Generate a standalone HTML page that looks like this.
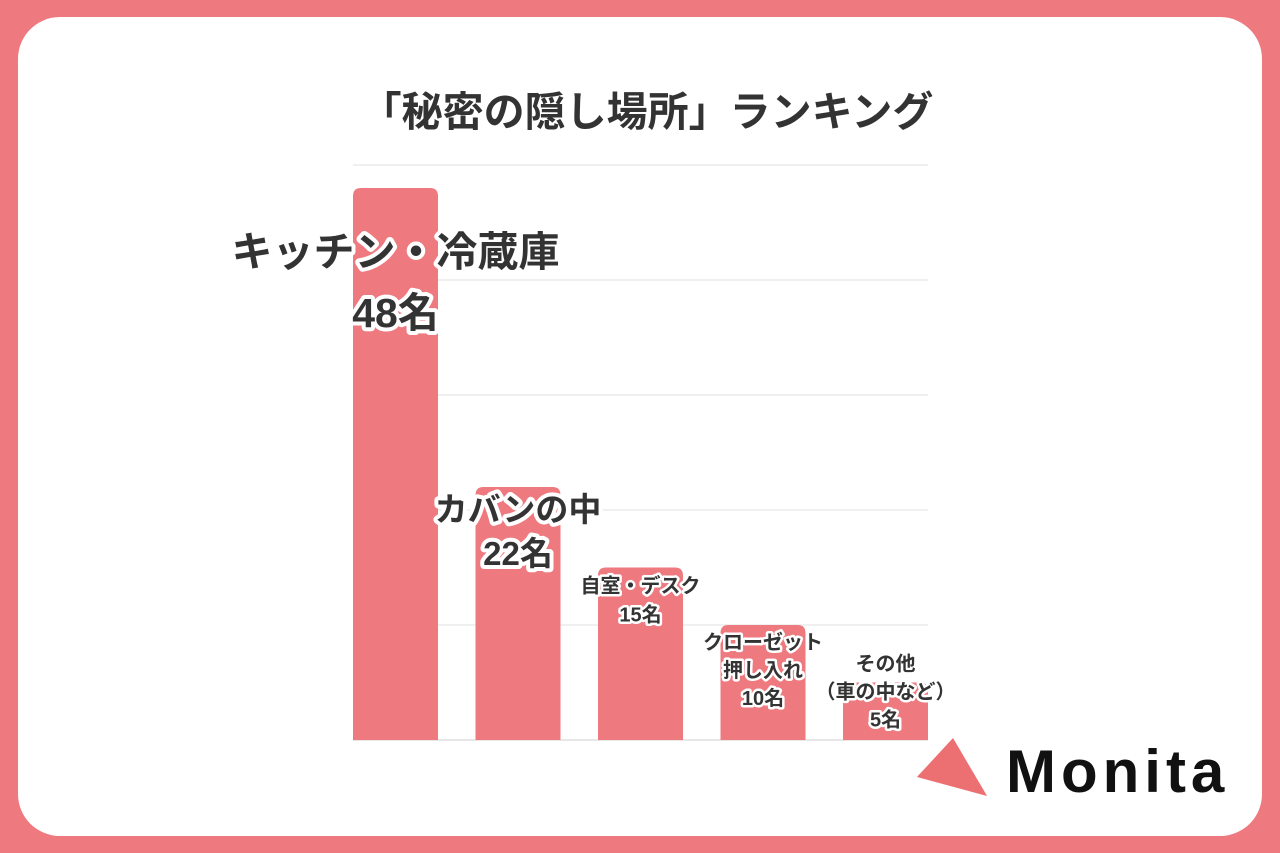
<!DOCTYPE html>
<html><head><meta charset="utf-8">
<style>
html,body{margin:0;padding:0;width:1280px;height:853px;overflow:hidden;background:#ee7a80;}
svg{display:block;font-family:"Liberation Sans","Noto Sans CJK JP",sans-serif;}
</style></head>
<body>
<svg id="chart" width="1280" height="853" viewBox="0 0 1280 853">
<rect x="0" y="0" width="1280" height="853" fill="#ee7a80"/>
<rect x="18" y="17" width="1244" height="819" rx="42" fill="#ffffff"/>
<text x="647" y="126" text-anchor="middle" font-size="41" font-weight="700" fill="#333">「秘密の隠し場所」ランキング</text>
<g id="grid"></g>
<g id="bars"></g>
<g id="labels"></g>
<g>
<polygon points="953,740 917,776 987,795" fill="#f8d8d8" opacity="0.6"/>
<polygon points="953,738 917,777 987,796" fill="#ec6f72"/>
<text x="1006" y="792" font-size="60" font-weight="700" fill="#111" letter-spacing="5">Monita</text>
</g>
</svg>
<script>
const categories = ["キッチン・冷蔵庫","カバンの中","自室・デスク","クローゼット押し入れ","その他（車の中など）"];
const values = [48,22,15,10,5];
const valueLabels = ["48名","22名","15名","10名","5名"];
const labelLines = [["キッチン・冷蔵庫"],["カバンの中"],["自室・デスク"],["クローゼット","押し入れ"],["その他","（車の中など）"]];
const gridTicks = [0,10,20,30,40,50];

const NS="http://www.w3.org/2000/svg";
const plotLeft=353, plotRight=928, baseY=740, topY=165, maxV=50;
const y = v => baseY - (v/maxV)*(baseY-topY);
const barW = 85;
const bx = i => plotLeft + i*(plotRight-plotLeft-barW)/(categories.length-1);
function mk(t,a){const e=document.createElementNS(NS,t);for(const k in a)e.setAttribute(k,a[k]);return e;}

const grid=document.getElementById('grid');
gridTicks.forEach(t=>{
  const l=mk('line',{x1:plotLeft,x2:plotRight,y1:y(t),y2:y(t),stroke:t===0?'#cfcfcf':'#e2e2e2','stroke-width':1});
  
  
  grid.appendChild(l);
});

const bars=document.getElementById('bars');
values.forEach((v,i)=>{
  const X=bx(i), Y=y(v), h=baseY-Y, r=Math.min(8,h/2);
  const p=mk('path',{d:`M${X},${baseY}V${Y+r}Q${X},${Y} ${X+r},${Y}H${X+barW-r}Q${X+barW},${Y} ${X+barW},${Y+r}V${baseY}Z`,fill:'#ee7a80'});
  
  
  bars.appendChild(p);
});

const sizes=[41,33,20,20,20];
const gaps=[61,44,29,28,28];
const offs=[null,78,54,80,44];
const labels=document.getElementById('labels');
values.forEach((v,i)=>{
  const cx=bx(i)+barW/2;
  const lines=labelLines[i].concat([valueLabels[i]]);
  const fs=sizes[i], g=gaps[i];
  const lastY = i===0 ? 327 : y(v)+offs[i];
  const startY = lastY - (lines.length-1)*g;
  lines.forEach((s,j)=>{
    const t=mk('text',{x:cx,y:startY+j*g,'text-anchor':'middle','font-size':fs,'font-weight':700,fill:'#333',stroke:'#fff','stroke-width':fs>25?8:5,'stroke-linejoin':'round','paint-order':'stroke'});
    t.textContent=s;
    
    
    labels.appendChild(t);
  });
});
</script>
</body></html>
